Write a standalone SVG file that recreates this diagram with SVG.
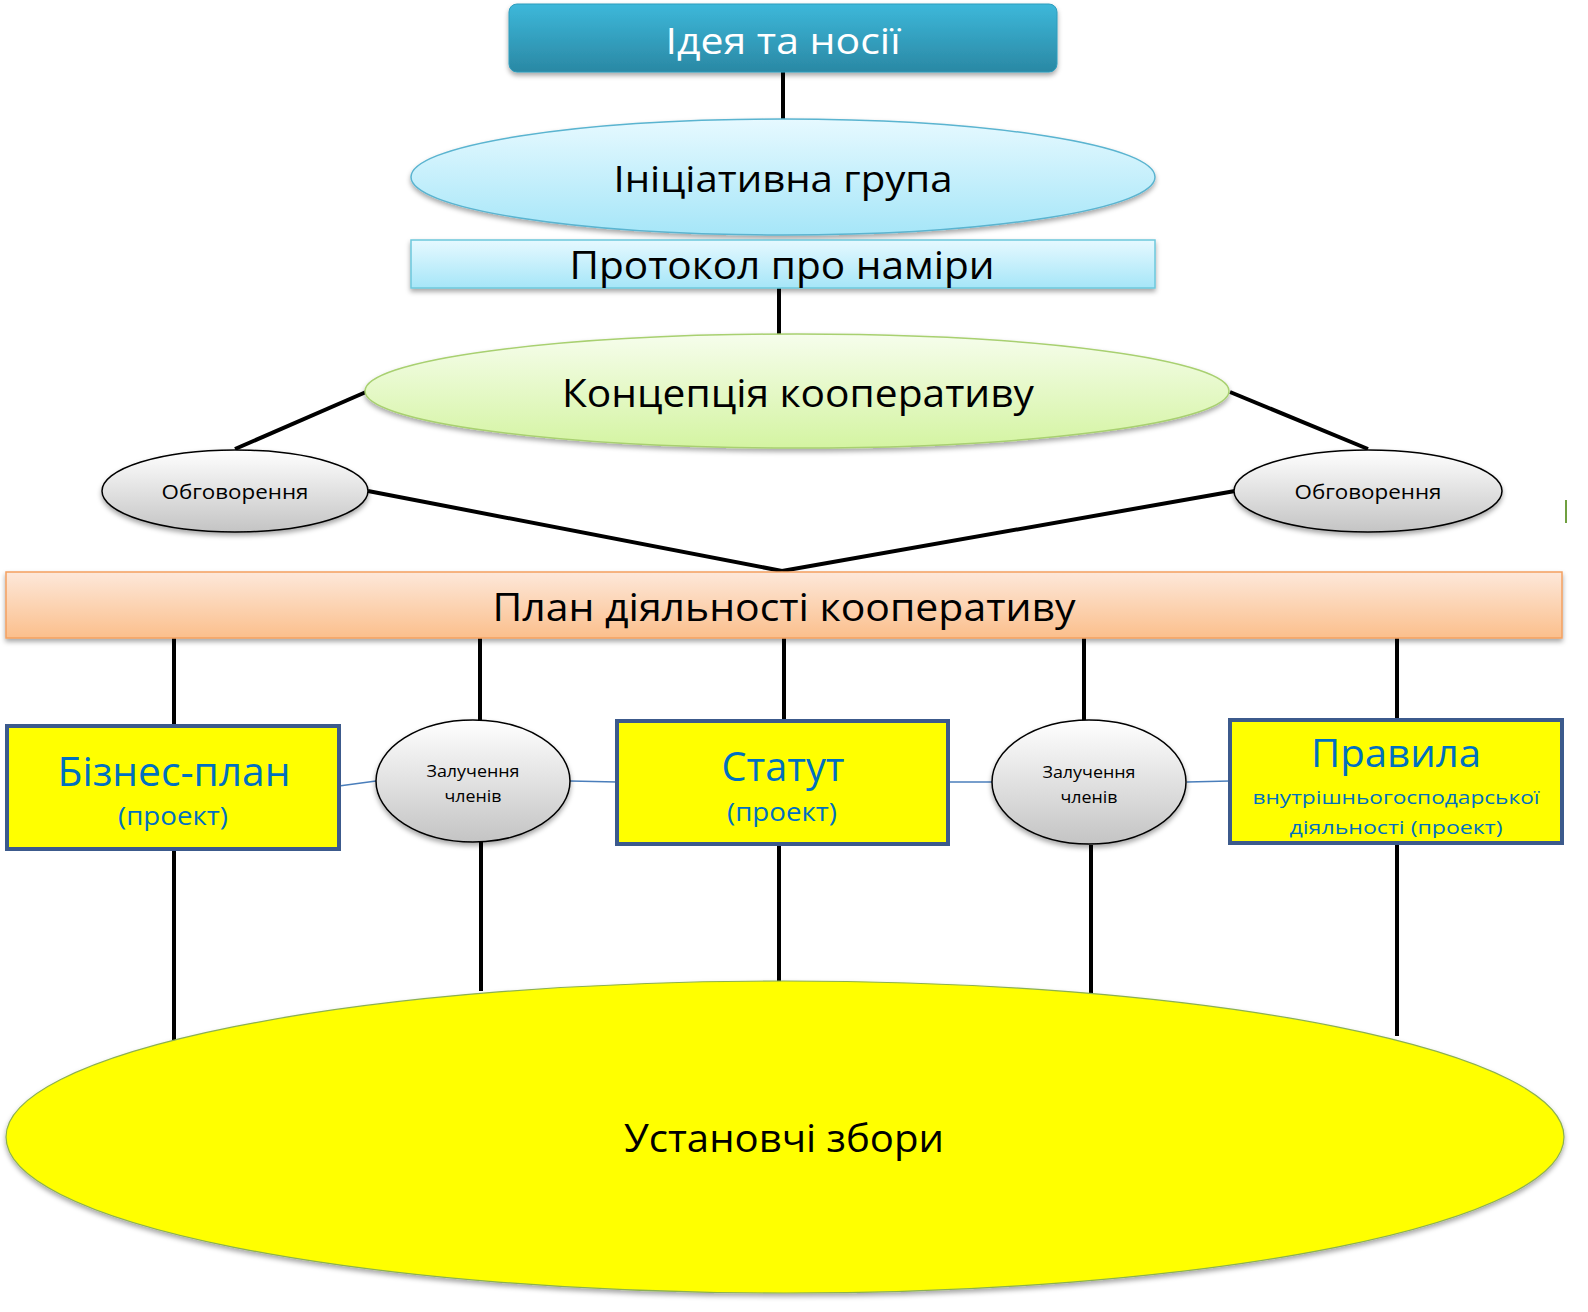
<svg xmlns="http://www.w3.org/2000/svg" width="1588" height="1312" viewBox="0 0 1588 1312">
<defs>
<linearGradient id="gTop" x1="0" y1="0" x2="0" y2="1"><stop offset="0" stop-color="#3db8da"/><stop offset="1" stop-color="#2a88a4"/></linearGradient>
<linearGradient id="gCyan" x1="0" y1="0" x2="0" y2="1"><stop offset="0" stop-color="#e6f9ff"/><stop offset="1" stop-color="#a6e6f8"/></linearGradient>
<linearGradient id="gGreen" x1="0" y1="0" x2="0" y2="1"><stop offset="0" stop-color="#f6fdec"/><stop offset="1" stop-color="#d4f4a2"/></linearGradient>
<linearGradient id="gGray" x1="0" y1="0" x2="0" y2="1"><stop offset="0" stop-color="#ffffff"/><stop offset="1" stop-color="#c4c4c4"/></linearGradient>
<linearGradient id="gOrange" x1="0" y1="0" x2="0" y2="1"><stop offset="0" stop-color="#fde8da"/><stop offset="1" stop-color="#fbbf8c"/></linearGradient>
<filter id="sh" x="-10%" y="-20%" width="120%" height="150%"><feDropShadow dx="0" dy="3" stdDeviation="2.5" flood-color="#000" flood-opacity="0.35"/></filter>
</defs>
<style>
text{font-family:"Open Sans","Noto Sans","DejaVu Sans",sans-serif;text-anchor:middle}
.blk{fill:#000}
.blue{fill:#0070c0}
.conn{stroke:#000;stroke-width:4;fill:none}
.thin{stroke:#4a7ebb;stroke-width:1.5;fill:none}
.gray{fill:url(#gGray);stroke:#000;stroke-width:1.5}
.ybox{fill:#ffff00;stroke:#3c5a8c;stroke-width:4}
</style>
<g id="connectors">
<line class="conn" x1="783" y1="72" x2="783" y2="119"/>
<line class="conn" x1="779" y1="288" x2="779" y2="335"/>
<line class="conn" x1="366" y1="392" x2="235" y2="449"/>
<line class="conn" x1="1230" y1="392" x2="1368" y2="449"/>
<line class="conn" x1="368" y1="491" x2="782" y2="571"/>
<line class="conn" x1="1235" y1="491" x2="782" y2="571"/>
<line class="conn" x1="174" y1="638" x2="174" y2="726"/>
<line class="conn" x1="480" y1="638" x2="480" y2="722"/>
<line class="conn" x1="784" y1="638" x2="784" y2="721"/>
<line class="conn" x1="1084" y1="638" x2="1084" y2="723"/>
<line class="conn" x1="1397" y1="638" x2="1397" y2="720"/>
<line class="thin" x1="339" y1="786" x2="376" y2="781"/>
<line class="thin" x1="570" y1="781" x2="617" y2="782"/>
<line class="thin" x1="948" y1="782" x2="992" y2="782"/>
<line class="thin" x1="1187" y1="782" x2="1230" y2="781"/>
<line class="conn" x1="174" y1="849" x2="174" y2="1041"/>
<line class="conn" x1="481" y1="842" x2="481" y2="991"/>
<line class="conn" x1="779" y1="844" x2="779" y2="985"/>
<line class="conn" x1="1091" y1="845" x2="1091" y2="993"/>
<line class="conn" x1="1397" y1="843" x2="1397" y2="1036"/>
</g>
<g id="idea">
<rect x="509" y="4" width="548" height="68" rx="8" fill="url(#gTop)" stroke="#2f9cbc" stroke-width="1" filter="url(#sh)"/>
<text x="783" y="54" font-size="37" fill="#fff" textLength="235" lengthAdjust="spacingAndGlyphs">Ідея та носії</text>
</g>
<g id="init">
<ellipse cx="783" cy="177" rx="372" ry="58" fill="url(#gCyan)" stroke="#5ab4d0" stroke-width="1.5" filter="url(#sh)"/>
<text class="blk" x="783" y="192" font-size="37" textLength="339" lengthAdjust="spacingAndGlyphs">Ініціативна група</text>
</g>
<g id="protocol">
<rect x="411" y="240" width="744" height="48" fill="url(#gCyan)" stroke="#6cc8dc" stroke-width="1.5" filter="url(#sh)"/>
<text class="blk" x="782" y="279" font-size="39" textLength="425" lengthAdjust="spacingAndGlyphs">Протокол про наміри</text>
</g>
<g id="concept">
<ellipse cx="797" cy="391" rx="432" ry="57" fill="url(#gGreen)" stroke="#a8d070" stroke-width="1.5" filter="url(#sh)"/>
<text class="blk" x="798" y="407" font-size="39" textLength="472" lengthAdjust="spacingAndGlyphs">Концепція кооперативу</text>
</g>
<g id="discuss-left">
<ellipse class="gray" cx="235" cy="491" rx="133" ry="41" filter="url(#sh)"/>
<text class="blk" x="235" y="499" font-size="20" textLength="147" lengthAdjust="spacingAndGlyphs">Обговорення</text>
</g>
<g id="discuss-right">
<ellipse class="gray" cx="1368" cy="491" rx="134" ry="41" filter="url(#sh)"/>
<text class="blk" x="1368" y="499" font-size="20" textLength="147" lengthAdjust="spacingAndGlyphs">Обговорення</text>
</g>
<g id="plan">
<rect x="6" y="572" width="1556" height="66" fill="url(#gOrange)" stroke="#f4a060" stroke-width="1.5" filter="url(#sh)"/>
<text class="blk" x="784" y="621" font-size="39" textLength="583" lengthAdjust="spacingAndGlyphs">План діяльності кооперативу</text>
</g>
<g id="business">
<rect class="ybox" x="7" y="726" width="332" height="123"/>
<text class="blue" x="174" y="786" font-size="40" textLength="233" lengthAdjust="spacingAndGlyphs">Бізнес-план</text>
<text class="blue" x="173" y="825" font-size="25" textLength="110" lengthAdjust="spacingAndGlyphs">(проект)</text>
</g>
<g id="attract-1">
<ellipse class="gray" cx="473" cy="781" rx="97" ry="61" filter="url(#sh)"/>
<text class="blk" x="473" y="777" font-size="16.5" textLength="93" lengthAdjust="spacingAndGlyphs">Залучення</text>
<text class="blk" x="473" y="802" font-size="16.5" textLength="57" lengthAdjust="spacingAndGlyphs">членів</text>
</g>
<g id="statute">
<rect class="ybox" x="617" y="721" width="331" height="123"/>
<text class="blue" x="783" y="781" font-size="40" textLength="123" lengthAdjust="spacingAndGlyphs">Статут</text>
<text class="blue" x="782" y="821" font-size="25" textLength="110" lengthAdjust="spacingAndGlyphs">(проект)</text>
</g>
<g id="attract-2">
<ellipse class="gray" cx="1089" cy="782" rx="97" ry="62" filter="url(#sh)"/>
<text class="blk" x="1089" y="778" font-size="16.5" textLength="93" lengthAdjust="spacingAndGlyphs">Залучення</text>
<text class="blk" x="1089" y="803" font-size="16.5" textLength="57" lengthAdjust="spacingAndGlyphs">членів</text>
</g>
<g id="rules">
<rect class="ybox" x="1230" y="720" width="332" height="123"/>
<text class="blue" x="1396" y="767" font-size="38" textLength="170" lengthAdjust="spacingAndGlyphs">Правила</text>
<text class="blue" x="1396" y="804" font-size="19" textLength="287" lengthAdjust="spacingAndGlyphs">внутрішньогосподарської</text>
<text class="blue" x="1396" y="834" font-size="19" textLength="213" lengthAdjust="spacingAndGlyphs">діяльності (проект)</text>
</g>
<g id="founding">
<ellipse cx="785" cy="1137" rx="779" ry="156" fill="#ffff00" stroke="#8cb050" stroke-width="1.2" filter="url(#sh)"/>
<text class="blk" x="784" y="1152" font-size="39" textLength="320" lengthAdjust="spacingAndGlyphs">Установчі збори</text>
</g>
<line x1="1566" y1="500" x2="1566" y2="523" stroke="#70a040" stroke-width="2"/>
</svg>
